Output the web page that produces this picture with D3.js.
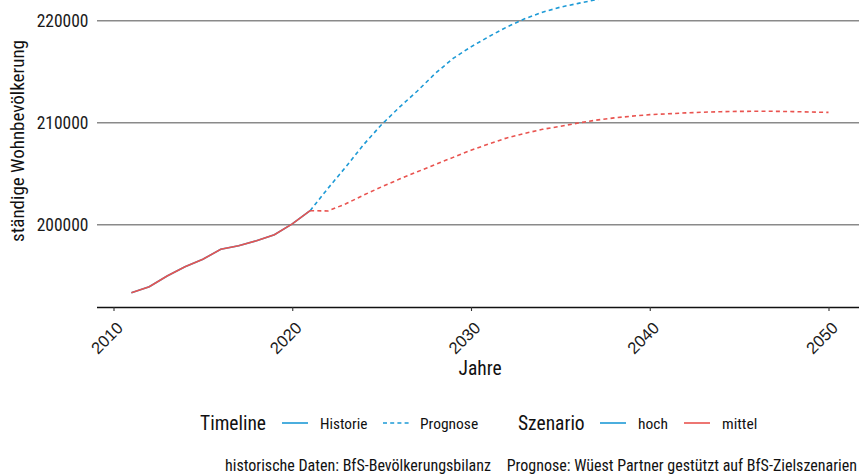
<!DOCTYPE html>
<html>
<head>
<meta charset="utf-8">
<script src="https://cdn.jsdelivr.net/npm/d3@7"></script>
<style>
  html, body { margin: 0; padding: 0; background: #fff; }
  svg { display: block; font-family: "Roboto Condensed", "Liberation Sans Narrow", Roboto, sans-serif; }
</style>
</head>
<body>
<svg id="chart" width="859" height="474"></svg>
<script>
// ---- data ----
const histYears = [2011, 2012, 2013, 2014, 2015, 2016, 2017, 2018, 2019, 2020, 2021];
const histValues = [193330, 193920, 194970, 195880, 196610, 197590, 197940, 198430, 199020, 200080, 201370];

const progYearsHoch = [2021, 2022, 2023, 2024, 2025, 2026, 2027, 2028, 2029, 2030, 2031, 2032, 2033, 2034, 2035, 2036, 2037, 2038];
const progHoch = [201370, 203570, 205670, 207870, 209820, 211520, 213110, 214830, 216300, 217440, 218440, 219380, 220180, 220830, 221330, 221700, 222060, 222400];

const progYearsMittel = [2021, 2022, 2023, 2024, 2025, 2026, 2027, 2028, 2029, 2030, 2031, 2032, 2033, 2034, 2035, 2036, 2037, 2038, 2039, 2040, 2041, 2042, 2043, 2044, 2045, 2046, 2047, 2048, 2049, 2050];
const progMittel = [201370, 201350, 202050, 202910, 203710, 204470, 205190, 205900, 206600, 207300, 207920, 208510, 208950, 209350, 209650, 209970, 210250, 210470, 210640, 210790, 210870, 210960, 211030, 211080, 211110, 211120, 211115, 211090, 211050, 211010];

const xTicks = [2010, 2020, 2030, 2040, 2050];
const yTicks = [200000, 210000, 220000];

const scenarios = ["hoch", "mittel"];
const scenarioColors = ["#1d9ad6", "#e9534f"];
const timelineLabels = ["Historie", "Prognose"];
const captionLeft = "historische Daten: BfS-Bevölkerungsbilanz";
const captionRight = "Prognose: Wüest Partner gestützt auf BfS-Zielszenarien";

// ---- layout ----
const svg = d3.select("#chart");
const plotLeft = 97, plotRight = 859, plotTop = 0, plotBottom = 307;

const x = d3.scaleLinear().domain([2010, 2050]).range([113.5, 828.5]);
const y = d3.scaleLinear().domain([200000, 220000]).range([224.7, 20.7]);

svg.append("defs").append("clipPath").attr("id", "plotclip")
  .append("rect").attr("x", plotLeft).attr("y", plotTop)
  .attr("width", plotRight - plotLeft).attr("height", plotBottom - plotTop);

// gridlines
svg.append("g").selectAll("line").data(yTicks).join("line")
  .attr("x1", plotLeft).attr("x2", plotRight)
  .attr("y1", d => y(d)).attr("y2", d => y(d))
  .attr("stroke", "#8a8a8a").attr("stroke-width", 1.4);

// y labels
svg.append("g").selectAll("text").data(yTicks).join("text")
  .attr("x", 88.5).attr("y", d => y(d)).attr("dy", "0.36em")
  .attr("text-anchor", "end").attr("font-size", 17.5).attr("fill", "#1a1a1a")
  .text(d => d3.format("d")(d));

// y title
svg.append("text")
  .attr("transform", "translate(24,141) rotate(-90)")
  .attr("text-anchor", "middle").attr("font-size", 19).attr("fill", "#111")
  .text("ständige Wohnbevölkerung");

// x axis
const xAxis = d3.axisBottom(x).tickValues(xTicks).tickSize(4).tickFormat(d3.format("d"));
const gx = svg.append("g").attr("transform", `translate(0,${plotBottom})`).call(xAxis);
gx.select(".domain").attr("d", `M${plotLeft},0.5H${plotRight}`).attr("stroke", "#111").attr("stroke-width", 1.4);
gx.selectAll(".tick line").attr("stroke", "#333").attr("stroke-width", 1.1);
gx.selectAll(".tick text")
  .attr("font-size", 16.5).attr("fill", "#1a1a1a").attr("font-family", null)
  .attr("text-anchor", "end").attr("dy", null).attr("y", null)
  .attr("transform", "translate(10,22) rotate(-45)");

// x title
svg.append("text").attr("x", 480).attr("y", 375)
  .attr("text-anchor", "middle").attr("font-size", 19.5).attr("fill", "#111").text("Jahre");

// lines
const line = d3.line().x(d => x(d[0])).y(d => y(d[1]));
const lines = svg.append("g").attr("clip-path", "url(#plotclip)");
const series = [
  { hist: histYears.map((yr, i) => [yr, histValues[i]]), prog: progYearsHoch.map((yr, i) => [yr, progHoch[i]]), color: scenarioColors[0] },
  { hist: histYears.map((yr, i) => [yr, histValues[i]]), prog: progYearsMittel.map((yr, i) => [yr, progMittel[i]]), color: scenarioColors[1] }
];
series.forEach(s => {
  lines.append("path").attr("d", line(s.hist)).attr("fill", "none")
    .attr("stroke", s.color).attr("stroke-width", 1.6);
  lines.append("path").attr("d", line(s.prog)).attr("fill", "none")
    .attr("stroke", s.color).attr("stroke-width", 1.6).attr("stroke-dasharray", "4,3.2");
});

// legend
const ly = 423;
const leg = svg.append("g");
leg.append("text").attr("x", 200).attr("y", ly).attr("dy", "0.36em").attr("font-size", 19.5).attr("fill", "#111").text("Timeline");
leg.append("line").attr("x1", 282).attr("x2", 308).attr("y1", ly).attr("y2", ly).attr("stroke", scenarioColors[0]).attr("stroke-width", 1.6);
leg.append("text").attr("x", 320).attr("y", ly).attr("dy", "0.36em").attr("font-size", 15.3).attr("fill", "#111").text(timelineLabels[0]);
leg.append("line").attr("x1", 383).attr("x2", 410).attr("y1", ly).attr("y2", ly).attr("stroke", scenarioColors[0]).attr("stroke-width", 1.6).attr("stroke-dasharray", "4,3.2");
leg.append("text").attr("x", 420).attr("y", ly).attr("dy", "0.36em").attr("font-size", 15.5).attr("fill", "#111").text(timelineLabels[1]);
leg.append("text").attr("x", 518).attr("y", ly).attr("dy", "0.36em").attr("font-size", 19.5).attr("fill", "#111").text("Szenario");
leg.append("line").attr("x1", 600).attr("x2", 626).attr("y1", ly).attr("y2", ly).attr("stroke", scenarioColors[0]).attr("stroke-width", 1.6);
leg.append("text").attr("x", 638).attr("y", ly).attr("dy", "0.36em").attr("font-size", 15.5).attr("fill", "#111").text(scenarios[0]);
leg.append("line").attr("x1", 684).attr("x2", 710).attr("y1", ly).attr("y2", ly).attr("stroke", scenarioColors[1]).attr("stroke-width", 1.6);
leg.append("text").attr("x", 722).attr("y", ly).attr("dy", "0.36em").attr("font-size", 15.5).attr("fill", "#111").text(scenarios[1]);

// captions
svg.append("text").attr("x", 225).attr("y", 465).attr("dy", "0.36em").attr("font-size", 16).attr("fill", "#111").text(captionLeft);
svg.append("text").attr("x", 857).attr("y", 465).attr("dy", "0.36em").attr("text-anchor", "end").attr("font-size", 16).attr("fill", "#111").text(captionRight);
</script>
</body>
</html>
